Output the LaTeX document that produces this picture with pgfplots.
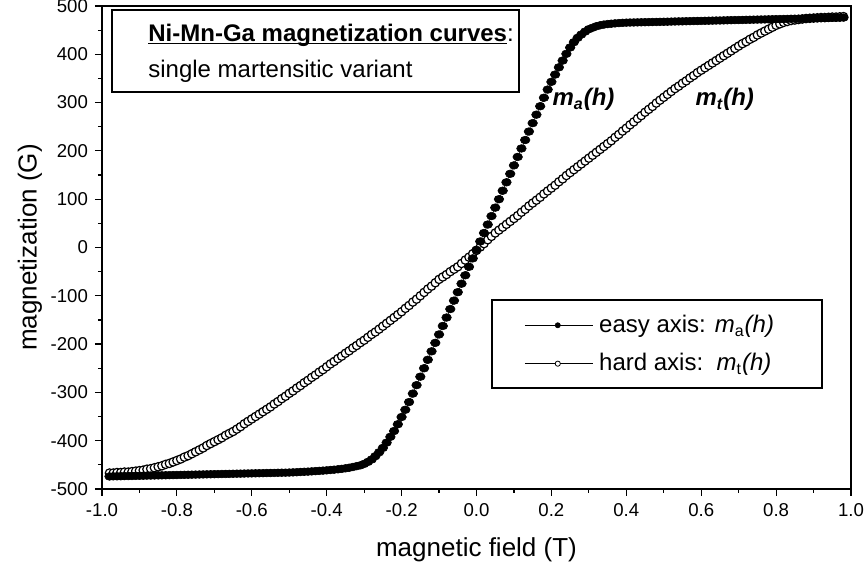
\documentclass[border=0pt]{standalone}
\usepackage{fontspec}
\setmainfont{Liberation Sans}
\usepackage{pgfplots}
\usepackage{pgfplotstable}
\pgfplotsset{compat=1.18}

% field h (T), easy-axis magnetization ma (G), hard-axis magnetization mt (G)
\pgfplotstableread{
h ma mt
-0.98 -474.0 -467
-0.97 -473.8 -467
-0.96 -473.7 -466
-0.95 -473.5 -466
-0.94 -473.3 -465
-0.93 -473.2 -465
-0.92 -473.0 -464
-0.91 -472.8 -463
-0.90 -472.7 -462
-0.89 -472.5 -461
-0.88 -472.3 -459
-0.87 -472.2 -458
-0.86 -472.0 -456
-0.85 -471.8 -454
-0.84 -471.7 -452
-0.83 -471.5 -449
-0.82 -471.3 -447
-0.81 -471.2 -444
-0.80 -471.0 -441
-0.79 -470.8 -438
-0.78 -470.7 -434
-0.77 -470.5 -431
-0.76 -470.3 -427
-0.75 -470.2 -423
-0.74 -470.0 -419
-0.73 -469.8 -415
-0.72 -469.7 -410
-0.71 -469.5 -406
-0.70 -469.3 -402
-0.69 -469.2 -398
-0.68 -469.0 -394
-0.67 -468.8 -389
-0.66 -468.7 -385
-0.65 -468.5 -381
-0.64 -468.3 -376
-0.63 -468.2 -371
-0.62 -468.0 -365
-0.61 -467.8 -360
-0.60 -467.7 -355
-0.59 -467.5 -350
-0.58 -467.3 -345
-0.57 -467.2 -340
-0.56 -467.0 -335
-0.55 -466.8 -330
-0.54 -466.7 -324
-0.53 -466.5 -319
-0.52 -466.3 -313
-0.51 -466.2 -308
-0.50 -466.0 -302
-0.49 -465.6 -297
-0.48 -465.2 -291
-0.47 -464.8 -286
-0.46 -464.4 -280
-0.45 -464.0 -275
-0.44 -463.5 -269
-0.43 -463.0 -264
-0.42 -462.5 -258
-0.41 -462.0 -253
-0.40 -461.4 -247
-0.39 -460.7 -241
-0.38 -460.0 -236
-0.37 -459.2 -230
-0.36 -458.3 -225
-0.35 -457.2 -219
-0.34 -456.0 -214
-0.33 -454.5 -208
-0.32 -452.7 -203
-0.31 -451.0 -197
-0.30 -448.0 -192
-0.29 -444.0 -186
-0.28 -439.0 -180
-0.27 -432.0 -175
-0.26 -424.0 -169
-0.25 -415.0 -163
-0.24 -404.0 -157
-0.23 -392.0 -151
-0.22 -380.0 -145
-0.21 -366.0 -139
-0.20 -351.0 -133
-0.19 -336.0 -126
-0.18 -320.0 -120
-0.17 -302.5 -113
-0.16 -285.0 -107
-0.15 -267.5 -100
-0.14 -250.0 -93
-0.13 -232.5 -86
-0.12 -215.0 -80
-0.11 -197.5 -73
-0.10 -180.0 -66
-0.09 -162.5 -61
-0.08 -145.0 -56
-0.07 -127.5 -50
-0.06 -110.0 -45
-0.05 -92.5 -40
-0.04 -75.0 -33
-0.03 -57.5 -26
-0.02 -40.0 -20
-0.01 -22.5 -13
0.00 -5.0 -6
0.01 12.5 1
0.02 30.0 8
0.03 47.5 16
0.04 65.0 23
0.05 82.5 30
0.06 100.0 36
0.07 117.5 42
0.08 135.0 48
0.09 152.5 54
0.10 170.0 60
0.11 187.5 66
0.12 205.0 73
0.13 222.5 79
0.14 240.0 86
0.15 257.5 92
0.16 275.0 98
0.17 292.5 104
0.18 310.0 111
0.19 327.0 117
0.20 343.0 123
0.21 358.0 129
0.22 373.0 136
0.23 387.0 142
0.24 401.0 149
0.25 414.0 155
0.26 425.0 161
0.27 434.0 167
0.28 441.0 173
0.29 447.0 179
0.30 452.0 185
0.31 455.0 191
0.32 458.0 197
0.33 460.0 203
0.34 461.5 209
0.35 462.5 215
0.36 463.3 221
0.37 464.0 228
0.38 464.6 234
0.39 465.1 241
0.40 465.5 247
0.41 465.7 254
0.42 465.9 260
0.43 466.1 267
0.44 466.2 273
0.45 466.4 280
0.46 466.6 286
0.47 466.8 292
0.48 467.0 299
0.49 467.1 305
0.50 467.3 311
0.51 467.5 317
0.52 467.7 323
0.53 467.9 329
0.54 468.1 334
0.55 468.2 340
0.56 468.4 345
0.57 468.6 351
0.58 468.8 356
0.59 469.0 362
0.60 469.1 367
0.61 469.3 372
0.62 469.5 377
0.63 469.7 382
0.64 469.9 387
0.65 470.0 392
0.66 470.2 397
0.67 470.4 402
0.68 470.6 407
0.69 470.8 412
0.70 470.9 417
0.71 471.1 422
0.72 471.3 426
0.73 471.5 431
0.74 471.7 435
0.75 471.8 440
0.76 472.0 444
0.77 472.2 448
0.78 472.4 452
0.79 472.6 456
0.80 472.8 460
0.81 472.9 463
0.82 473.1 466
0.83 473.3 468
0.84 473.5 470
0.85 473.7 471
0.86 473.8 472
0.87 474.0 473
0.88 474.2 474
0.89 474.4 474.5
0.90 474.6 475
0.91 474.7 475.5
0.92 474.9 476
0.93 475.1 476
0.94 475.3 476.5
0.95 475.5 477
0.96 475.6 477
0.97 475.8 477.5
0.98 476.0 478
}\magdata

\begin{document}
\begin{tikzpicture}
\begin{axis}[
  name=ax,
  scale only axis,
  width=374.5pt, height=241.5pt,
  xmin=-1, xmax=1, ymin=-500, ymax=500,
  xtick={-1,-0.8,-0.6,-0.4,-0.2,0,0.2,0.4,0.6,0.8,1},
  minor xtick={-0.9,-0.7,-0.5,-0.3,-0.1,0.1,0.3,0.5,0.7,0.9},
  ytick={-500,-400,-300,-200,-100,0,100,200,300,400,500},
  minor ytick={-450,-350,-250,-150,-50,50,150,250,350,450},
  tick align=outside, tick pos=left,
  major tick length=3.5pt, minor tick length=2pt,
  tick style={black, line width=0.6pt},
  axis line style={line width=0.8pt},
  /pgf/number format/assume math mode=true,
  ticklabel style={font=\fontsize{9.3}{10}\selectfont},
  xticklabel style={/pgf/number format/.cd, fixed, fixed zerofill, precision=1},
  yticklabel style={/pgf/number format/fixed},
  xlabel={magnetic field (T)},
  ylabel={magnetization (G)},
  label style={font=\fontsize{13}{15}\selectfont},
  xlabel style={at={(axis description cs:0.5,-0.1263)}, anchor=center},
  ylabel style={at={(axis description cs:-0.0961,0.5)}, anchor=center},
  reverse legend,
  legend cell align=left,
  legend style={draw=none, fill=none, inner sep=0pt,
    at={(rel axis cs:0.5634,0.2992)}, anchor=west,
    font=\fontsize{12}{14}\selectfont, row sep=5pt,
    /tikz/every odd column/.append style={column sep=1pt}},
]
% hard axis: open circles
\addplot[black, line width=0.3pt, mark=*, mark size=2.1pt,
  mark options={fill=white, line width=0.6pt},
  legend image code/.code={
    \draw[line width=0.4pt] (0pt,0pt) -- (34pt,0pt);
    \draw[line width=0.4pt, fill=white] (16.5pt,0pt) circle (1.3pt);}]
  table[x=h, y=mt] {\magdata};
\addlegendentry{hard axis:\ \ \textit{m}\textsubscript{t}\textit{(h)}}
% easy axis: filled circles
\addplot[black, line width=0.3pt, mark=*, mark size=2.4pt,
  mark options={yscale=0.8},
  legend image code/.code={
    \draw[line width=0.4pt] (0pt,0pt) -- (34pt,0pt);
    \fill (16.5pt,0pt) circle (1.3pt);}]
  table[x=h, y=ma] {\magdata};
\addlegendentry{easy axis: \textit{m}\textsubscript{a}\textit{(h)}}

% legend frame
\draw[line width=0.7pt] (rel axis cs:0.5207,0.2091) rectangle (rel axis cs:0.9613,0.3913);

% title box
\draw[line width=0.8pt, fill=white] (rel axis cs:0.0134,0.822) rectangle (rel axis cs:0.5567,0.9917);
\node[anchor=base west, inner sep=0pt, font=\fontsize{12}{14}\selectfont]
  at (rel axis cs:0.0614,0.9275) {\underline{\smash{\textbf{Ni-Mn-Ga magnetization curves}}}:};
\node[anchor=base west, inner sep=0pt, font=\fontsize{12}{14}\selectfont]
  at (rel axis cs:0.0614,0.851) {single martensitic variant};

% curve labels
\node[anchor=west, inner sep=0pt, font=\fontsize{12}{14}\selectfont\bfseries\itshape]
  at (axis cs:0.202,306) {m\textsubscript{a}(h)};
\node[anchor=west, inner sep=0pt, font=\fontsize{12}{14}\selectfont\bfseries\itshape]
  at (axis cs:0.584,306) {m\textsubscript{t}(h)};
\end{axis}
\pgfresetboundingbox
\path[use as bounding box] ([shift={(-51pt,-43.5pt)}]ax.south west) rectangle ([shift={(8.5pt,3pt)}]ax.north east);
\end{tikzpicture}
\end{document}
